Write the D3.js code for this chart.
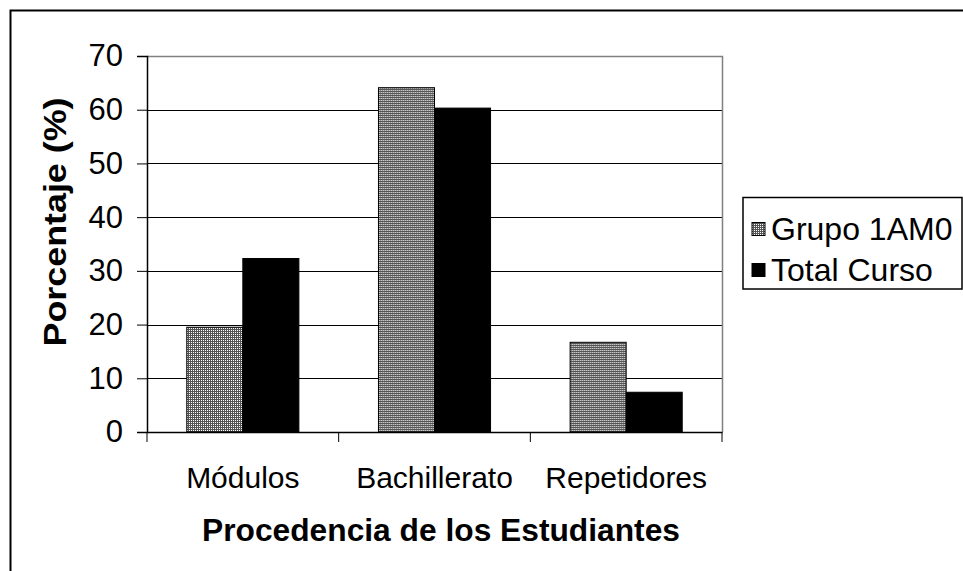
<!DOCTYPE html>
<html><head><meta charset="utf-8">
<script src="https://cdn.jsdelivr.net/npm/d3@7"></script>
<style>
html,body{margin:0;padding:0;background:#fff;}
svg{display:block;}
text{font-family:"Liberation Sans",Arial,sans-serif;fill:#000;}
</style></head>
<body>
<svg id="c" width="963" height="571"></svg>
<script>
const categories = ["Módulos", "Bachillerato", "Repetidores"];
const seriesNames = ["Grupo 1AM0", "Total Curso"];
const grupo = [19.5, 64.1, 16.7];
const total = [32.3, 60.3, 7.4];
const yTicks = [0, 10, 20, 30, 40, 50, 60, 70];
const xTitle = "Procedencia de los Estudiantes";
const yTitle = "Porcentaje (%)";

const svg = d3.select("#c");
const defs = svg.append("defs");
const pat = defs.append("pattern").attr("id","chk").attr("patternUnits","userSpaceOnUse")
  .attr("width",2).attr("height",2);
pat.append("rect").attr("width",2).attr("height",2).attr("fill","#555");
pat.append("rect").attr("width",1).attr("height",1).attr("fill","#fff");

// outer border
svg.append("rect").attr("x",10.5).attr("y",10.5).attr("width",1000).attr("height",1000)
  .attr("fill","none").attr("stroke","#000").attr("stroke-width",2);

const L=147, R=722, T=56, B=432;
const x = d3.scaleBand().domain(categories).range([L,R]).paddingInner(0).paddingOuter(0);
const inner = d3.scaleBand().domain(seriesNames).range([0,x.bandwidth()]).paddingInner(0).paddingOuter(0.71);
const y = d3.scaleLinear().domain([0,70]).range([B,T]);

// gridlines
svg.append("g").selectAll("line").data(yTicks.filter(d=>d>0 && d<70)).join("line")
  .attr("x1",L).attr("x2",R).attr("y1",d=>Math.round(y(d))+0.5).attr("y2",d=>Math.round(y(d))+0.5)
  .attr("stroke","#000").attr("stroke-width",1);
// plot border top/right gray
svg.append("path").attr("d",`M${L},${T+0.5}H${R+0.5}V${B}`).attr("fill","none").attr("stroke","#808080").attr("stroke-width",1.5);

// bars
const data = categories.map((c,i)=>({c, vals:[{s:seriesNames[0],v:grupo[i]},{s:seriesNames[1],v:total[i]}]}));
const g = svg.append("g").selectAll("g").data(data).join("g").attr("transform",d=>`translate(${x(d.c)},0)`);
g.selectAll("rect").data(d=>d.vals).join("rect")
  .attr("x",d=>inner(d.s)).attr("width",inner.bandwidth())
  .attr("y",d=>y(d.v)).attr("height",d=>B-y(d.v))
  .attr("fill",d=>d.s===seriesNames[0]?"url(#chk)":"#000")
  .attr("stroke","#000").attr("stroke-width",1);

// y axis
const ya = svg.append("g").attr("transform",`translate(${L},0)`)
  .call(d3.axisLeft(y).tickValues(yTicks).tickSize(10).tickPadding(14));
ya.select(".domain").attr("stroke","#000").attr("stroke-width",1.5);
ya.selectAll(".tick line").attr("stroke","#000");
ya.selectAll("text").attr("font-size",31).attr("font-family","Liberation Sans, Arial").attr("fill","#000");

// x axis
const xa = svg.append("g").attr("transform",`translate(0,${B})`)
  .call(d3.axisBottom(x).tickSize(0).tickPadding(35));
xa.select(".domain").attr("stroke","#000").attr("stroke-width",1.5);
xa.selectAll("text").attr("font-size",30).attr("font-family","Liberation Sans, Arial").attr("fill","#000");
// category boundary ticks
svg.append("g").selectAll("line").data(d3.range(categories.length+1)).join("line")
  .attr("x1",i=>i<categories.length? x(categories[i]) : R).attr("x2",i=>i<categories.length? x(categories[i]) : R)
  .attr("y1",B).attr("y2",B+10).attr("stroke","#000");

// titles
svg.append("text").attr("x",441).attr("y",541).attr("text-anchor","middle")
  .attr("font-size",31).attr("font-weight","bold")
  .attr("textLength",478).attr("lengthAdjust","spacingAndGlyphs").text(xTitle);
svg.append("text").attr("transform","translate(66,222) rotate(-90)").attr("text-anchor","middle")
  .attr("font-size",31).attr("font-weight","bold")
  .attr("textLength",249).attr("lengthAdjust","spacingAndGlyphs").text(yTitle);

// legend
const lg = svg.append("g");
lg.append("rect").attr("x",743).attr("y",197.5).attr("width",219).attr("height",91.5)
  .attr("fill","#fff").attr("stroke","#000").attr("stroke-width",1.5);
const ly = d3.scalePoint().domain(seriesNames).range([229,270]);
lg.selectAll("rect.sw").data(seriesNames).join("rect").attr("class","sw")
  .attr("x",752).attr("y",d=>ly(d)-6.5).attr("width",13).attr("height",13)
  .attr("fill",(d,i)=>i===0?"url(#chk)":"#000").attr("stroke","#000");
lg.selectAll("text").data(seriesNames).join("text")
  .attr("x",771).attr("y",d=>ly(d)+11).attr("font-size",32).text(d=>d);
</script>
</body></html>
